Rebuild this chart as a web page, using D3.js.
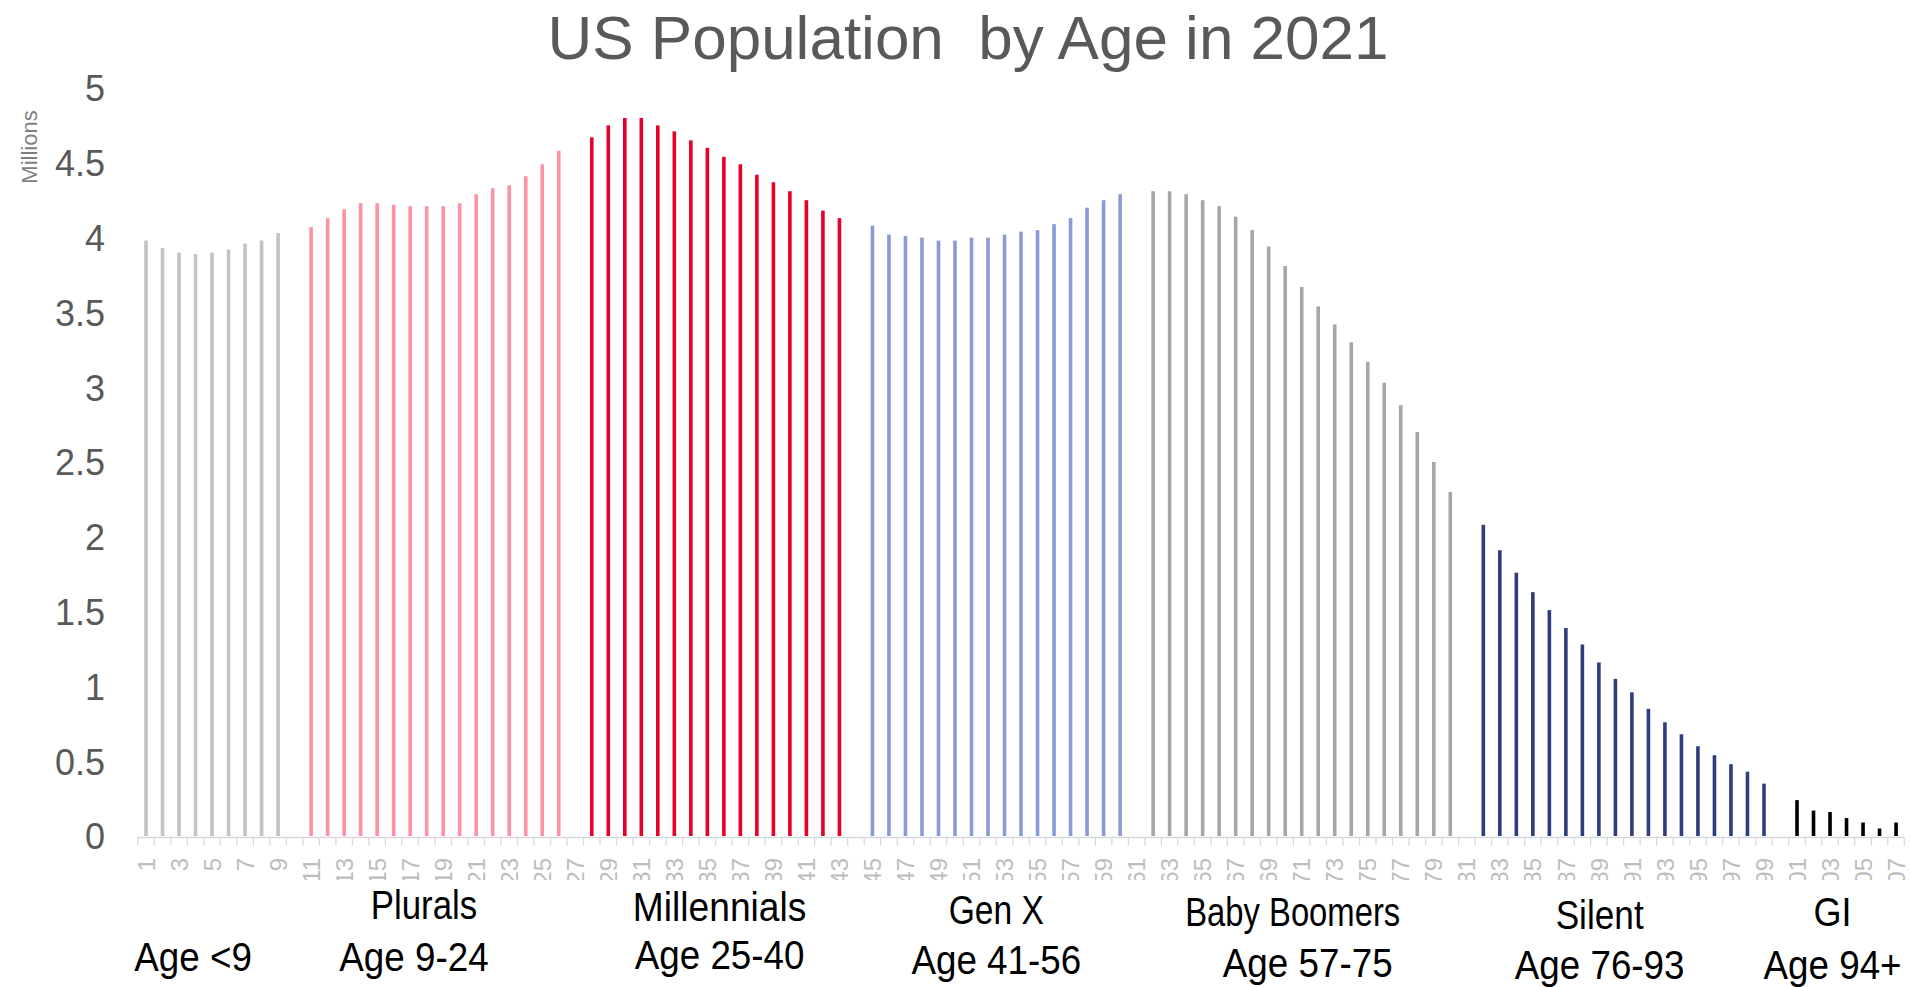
<!DOCTYPE html>
<html>
<head>
<meta charset="utf-8">
<script src="https://cdn.jsdelivr.net/npm/d3@7"></script>
<style>
  body { margin: 0; background: #fff; }
  svg { display: block; }
</style>
</head>
<body>
<svg id="chart" width="1911" height="987"></svg>
<script>
// ---------------- DATA ----------------
const categories = ["1","2","3","4","5","6","7","8","9","10","11","12","13","14","15","16","17","18","19","20",
  "21","22","23","24","25","26","27","28","29","30","31","32","33","34","35","36","37","38","39","40",
  "41","42","43","44","45","46","47","48","49","50","51","52","53","54","55","56","57","58","59","60",
  "61","62","63","64","65","66","67","68","69","70","71","72","73","74","75","76","77","78","79","80",
  "81","82","83","84","85","86","87","88","89","90","91","92","93","94","95","96","97","98","99","100",
  "101","102","103","104","105","106","107"];

// Population in millions, one array per generation (gaps between groups are empty categories)
const ageUnder9   = [3.98, 3.93, 3.90, 3.89, 3.90, 3.92, 3.96, 3.98, 4.03];
const plurals     = [4.07, 4.13, 4.19, 4.23, 4.23, 4.22, 4.21, 4.21, 4.21, 4.23, 4.29, 4.33, 4.35, 4.41, 4.49, 4.58];
const millennials = [4.67, 4.75, 4.80, 4.80, 4.75, 4.71, 4.65, 4.60, 4.54, 4.49, 4.42, 4.37, 4.31, 4.25, 4.18, 4.13];
const genX        = [4.08, 4.02, 4.01, 4.00, 3.98, 3.98, 4.00, 4.00, 4.02, 4.04, 4.05, 4.09, 4.13, 4.20, 4.25, 4.29];
const boomers     = [4.31, 4.31, 4.29, 4.25, 4.21, 4.14, 4.05, 3.94, 3.81, 3.67, 3.54, 3.42, 3.30, 3.17, 3.03, 2.88, 2.70, 2.50, 2.30];
const silent      = [2.08, 1.91, 1.76, 1.63, 1.51, 1.39, 1.28, 1.16, 1.05, 0.96, 0.85, 0.76, 0.68, 0.60, 0.54, 0.48, 0.43, 0.35];
const gi          = [0.24, 0.17, 0.16, 0.12, 0.09, 0.05, 0.09];

const groupSeries = [ageUnder9, plurals, millennials, genX, boomers, silent, gi];
const groupNames  = ["", "Plurals", "Millennials", "Gen X", "Baby Boomers", "Silent", "GI"];
const groupAges   = ["Age <9", "Age 9-24", "Age 25-40", "Age 41-56", "Age 57-75", "Age 76-93", "Age 94+"];
const yTicks      = [0, 0.5, 1, 1.5, 2, 2.5, 3, 3.5, 4, 4.5, 5];
const titleText   = "US Population\u00a0 by Age in 2021";
const yUnitLabel  = "Millions";

// ---------------- STYLE / LAYOUT ----------------
const groupColors = ["#c3c3c3", "#ff91a4", "#e8002c", "#8a9ad6", "#a6a6a6", "#2f3c7e", "#000000"];
const lowerDx     = [-19, -21, 4, 0, 6, -24, -14];
const upperDx     = [0, -11, 4, 0, -9, -24, -14];
const upperBase   = [0, 919, 921, 924, 926, 929, 926];
const lowerBase   = [971, 971, 969, 974, 977, 979, 979];
const upperScaleX = [1, 0.87, 0.93, 0.84, 0.82, 0.88, 0.9];
const lowerScaleX = 0.92;

// Build the table of bars from the arrays (one empty category after each group)
const bars = [];
const groupSlots = [];
let slot = 0;
groupSeries.forEach((arr, gi_) => {
  const start = slot;
  arr.forEach(v => { bars.push({cat: categories[slot], value: v, group: gi_}); slot++; });
  groupSlots.push([categories[start], categories[slot - 1]]);
  slot++; // empty category
});

const svg = d3.select("#chart");
const W = 1911, H = 987;
svg.append("rect").attr("width", W).attr("height", H).attr("fill", "#fff");

const x = d3.scaleBand().domain(categories).range([137.75, 137.75 + 107 * 16.51]).padding(0);
const y = d3.scaleLinear().domain([0, 5]).range([836, 88]);
const barW = 3.6;

// Title
svg.append("text")
  .attr("x", 968).attr("y", 59)
  .attr("text-anchor", "middle")
  .attr("font-family", "'Liberation Sans', Arial, sans-serif")
  .attr("font-size", 62)
  .attr("fill", "#595959")
  .text(titleText);

// Y unit label
svg.append("text")
  .attr("transform", "translate(37,147) rotate(-90)")
  .attr("text-anchor", "middle")
  .attr("font-family", "'Liberation Sans', Arial, sans-serif")
  .attr("font-size", 22)
  .attr("fill", "#7f7f7f")
  .text(yUnitLabel);

// Y axis (labels only)
const yAxis = d3.axisLeft(y).tickValues(yTicks).tickSize(0).tickPadding(0).tickFormat(d3.format("~g"));
const gy = svg.append("g").attr("transform", "translate(105,0)").call(yAxis);
gy.select(".domain").remove();
gy.selectAll("text")
  .attr("font-family", "'Liberation Sans', Arial, sans-serif")
  .attr("font-size", 36)
  .attr("fill", "#595959")
  .attr("dy", "0.36em");

// Bars
svg.append("g").selectAll("rect").data(bars).join("rect")
  .attr("x", d => x(d.cat) + x.bandwidth() / 2 - barW / 2)
  .attr("width", barW)
  .attr("y", d => y(d.value))
  .attr("height", d => y(0) - y(d.value))
  .attr("fill", d => groupColors[d.group]);

// X axis
svg.append("defs").append("clipPath").attr("id", "xclip")
  .append("rect").attr("x", 0).attr("y", 830).attr("width", W).attr("height", 50);

const xAxisG = svg.append("g").attr("clip-path", "url(#xclip)");
const axY = 837.5;
xAxisG.append("line")
  .attr("x1", x.range()[0]).attr("x2", x.range()[1])
  .attr("y1", axY).attr("y2", axY)
  .attr("stroke", "#d9d9d9").attr("stroke-width", 1.5);
const boundaries = categories.map(c => x(c)).concat([x.range()[1]]);
xAxisG.selectAll("line.tick").data(boundaries).join("line")
  .attr("class", "tick")
  .attr("x1", d => d).attr("x2", d => d)
  .attr("y1", axY).attr("y2", axY + 8)
  .attr("stroke", "#d9d9d9").attr("stroke-width", 1.3);
xAxisG.selectAll("text").data(categories.filter((c, i) => i % 2 === 0)).join("text")
  .attr("transform", d => `translate(${x(d) + x.bandwidth() / 2},858) rotate(-90)`)
  .attr("text-anchor", "end")
  .attr("dy", "0.36em")
  .attr("font-family", "'Liberation Sans', Arial, sans-serif")
  .attr("font-size", 24)
  .attr("fill", "#bdbdbd")
  .text(d => d);

// Generation labels
const labG = svg.append("g")
  .attr("font-family", "'Liberation Sans', Arial, sans-serif")
  .attr("font-size", 40)
  .attr("fill", "#000")
  .attr("text-anchor", "middle");
groupSlots.forEach((s, i) => {
  const cx = (x(s[0]) + x(s[1]) + x.bandwidth()) / 2;
  if (groupNames[i]) {
    labG.append("text")
      .attr("transform", `translate(${cx + upperDx[i]},${upperBase[i]}) scale(${upperScaleX[i]},1)`)
      .text(groupNames[i]);
  }
  labG.append("text")
    .attr("transform", `translate(${cx + lowerDx[i]},${lowerBase[i]}) scale(${lowerScaleX},1)`)
    .text(groupAges[i]);
});
</script>
</body>
</html>
